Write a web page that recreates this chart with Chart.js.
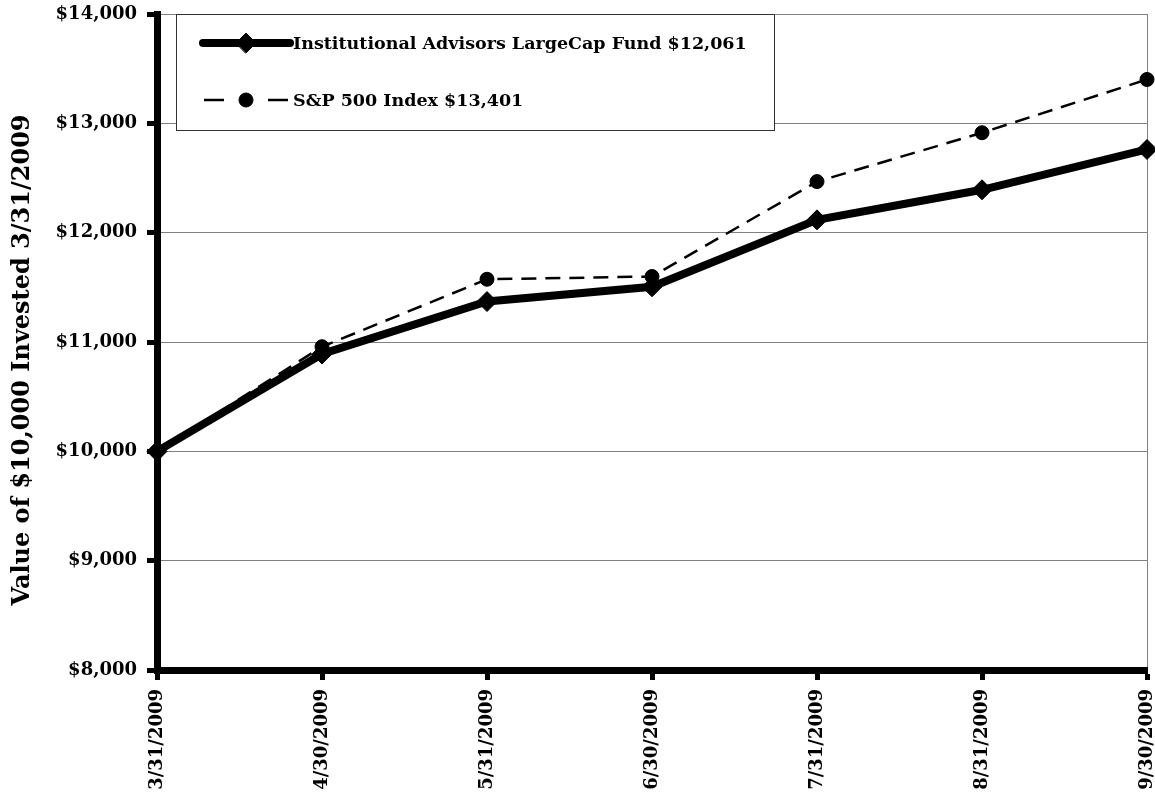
<!DOCTYPE html>
<html>
<head>
<meta charset="utf-8">
<title>Growth of $10,000</title>
<script src="https://cdn.jsdelivr.net/npm/chart.js@4.4.0/dist/chart.umd.min.js"></script>
<style>
  html, body { margin: 0; padding: 0; background: #fff; }
  #wrap { width: 1155px; height: 799px; }
</style>
</head>
<body>
<div id="wrap"><canvas id="chart" width="1155" height="799"></canvas></div>
<script>
// Month-end dates
const dates = ['3/31/2009', '4/30/2009', '5/31/2009', '6/30/2009', '7/31/2009', '8/31/2009', '9/30/2009'];

// Value of a $10,000 investment at each month end
const fundValues  = [10000, 10890, 11370, 11505, 12117, 12392, 12761];
const indexValues = [10000, 10957, 11574, 11599, 12467, 12914, 13401];

// Series names as shown in the legend
const fundLabel  = 'Institutional Advisors LargeCap Fund $12,061';
const indexLabel = 'S&P 500 Index $13,401';

// Value axis
const yAxisTitle = 'Value of $10,000 Invested 3/31/2009';
const yTicks = [8000, 9000, 10000, 11000, 12000, 13000, 14000];

const FONT = '"DejaVu Serif", "Liberation Serif", serif';

// Boxed legend in the upper-left corner of the plot, with line samples
const boxLegend = {
  id: 'boxLegend',
  afterDatasetsDraw(chart) {
    const ctx = chart.ctx;
    const a = chart.chartArea;
    const x0 = a.left + 19, y0 = a.top, w = 598, h = 116;
    ctx.save();
    ctx.fillStyle = '#fff';
    ctx.fillRect(x0, y0, w, h);
    ctx.strokeStyle = '#333';
    ctx.lineWidth = 1;
    ctx.strokeRect(x0 + 0.5, y0 + 0.5, w, h);

    const sets = chart.data.datasets;
    const rows = [y0 + 29, y0 + 86];
    const sx = x0 + 70;

    // fund sample: heavy solid line with diamond
    ctx.strokeStyle = '#000';
    ctx.fillStyle = '#000';
    ctx.lineCap = 'round';
    ctx.lineWidth = sets[0].borderWidth;
    ctx.beginPath();
    ctx.moveTo(x0 + 27, rows[0]);
    ctx.lineTo(x0 + 114, rows[0]);
    ctx.stroke();
    ctx.lineWidth = 1;
    Chart.helpers.drawPoint(ctx, { pointStyle: 'rectRot', radius: sets[0].pointRadius, borderWidth: 1 }, sx, rows[0]);

    // index sample: dashes either side of a dot
    ctx.lineCap = 'butt';
    ctx.lineWidth = sets[1].borderWidth;
    ctx.beginPath();
    ctx.moveTo(x0 + 28, rows[1]); ctx.lineTo(x0 + 48, rows[1]);
    ctx.moveTo(x0 + 92, rows[1]); ctx.lineTo(x0 + 112, rows[1]);
    ctx.stroke();
    ctx.lineWidth = 1;
    Chart.helpers.drawPoint(ctx, { pointStyle: 'circle', radius: sets[1].pointRadius, borderWidth: 1 }, sx, rows[1]);

    ctx.font = 'bold 17.5px ' + FONT;
    ctx.textAlign = 'left';
    ctx.textBaseline = 'middle';
    ctx.fillText(sets[0].label, x0 + 117, rows[0] + 1);
    ctx.fillText(sets[1].label, x0 + 117, rows[1] + 1);
    ctx.restore();
  }
};

// Rotated value-axis title
const axisTitle = {
  id: 'axisTitle',
  afterDraw(chart) {
    const ctx = chart.ctx;
    ctx.save();
    ctx.translate(23, 360);
    ctx.rotate(-Math.PI / 2);
    ctx.font = 'bold 24px ' + FONT;
    ctx.fillStyle = '#000';
    ctx.textAlign = 'center';
    ctx.textBaseline = 'middle';
    ctx.fillText(yAxisTitle, 0, 0);
    ctx.restore();
  }
};

const tickFont = { family: FONT, size: 18, weight: 'bold' };

new Chart(document.getElementById('chart'), {
  type: 'line',
  data: {
    labels: dates,
    datasets: [
      {
        label: fundLabel,
        data: fundValues,
        borderColor: '#000',
        backgroundColor: '#000',
        borderWidth: 8,
        pointStyle: 'rectRot',
        pointRadius: 10,
        pointBorderWidth: 1,
        pointBackgroundColor: '#000',
        pointBorderColor: '#000',
        tension: 0,
        clip: false
      },
      {
        label: indexLabel,
        data: indexValues,
        borderColor: '#000',
        backgroundColor: '#000',
        borderWidth: 2.5,
        borderDash: [15, 9],
        pointStyle: 'circle',
        pointRadius: 7,
        pointBorderWidth: 1,
        pointBackgroundColor: '#000',
        pointBorderColor: '#000',
        tension: 0,
        clip: false
      }
    ]
  },
  options: {
    responsive: false,
    animation: false,
    layout: { autoPadding: false, padding: { top: 14, right: 8, left: 0, bottom: 0 } },
    plugins: {
      legend: { display: false },
      tooltip: { enabled: false },
      title: { display: false }
    },
    scales: {
      x: {
        type: 'category',
        offset: false,
        grid: {
          offset: false,
          color: (c) => c.index === dates.length - 1 ? '#808080' : 'rgba(0,0,0,0)',
          lineWidth: 1,
          tickColor: '#000',
          tickWidth: 5,
          tickLength: 10
        },
        border: { display: true, color: '#000', width: 7 },
        ticks: {
          color: '#000',
          font: tickFont,
          minRotation: 90,
          maxRotation: 90,
          autoSkip: false,
          padding: 9
        },
        afterFit(s) { s.height = 129; s.paddingLeft = 0; s.paddingRight = 0; }
      },
      y: {
        min: yTicks[0],
        max: yTicks[yTicks.length - 1],
        afterBuildTicks(s) { s.ticks = yTicks.map(v => ({ value: v })); },
        grid: {
          color: '#808080',
          lineWidth: 1,
          tickColor: '#000',
          tickWidth: 5,
          tickLength: 10
        },
        border: { display: true, color: '#000', width: 7 },
        ticks: {
          color: '#000',
          font: tickFont,
          padding: 10,
          callback: (v) => '$' + Number(v).toLocaleString('en-US')
        },
        afterFit(s) { s.width = 157; s.paddingTop = 0; s.paddingBottom = 0; }
      }
    }
  },
  plugins: [boxLegend, axisTitle]
});
</script>
</body>
</html>
